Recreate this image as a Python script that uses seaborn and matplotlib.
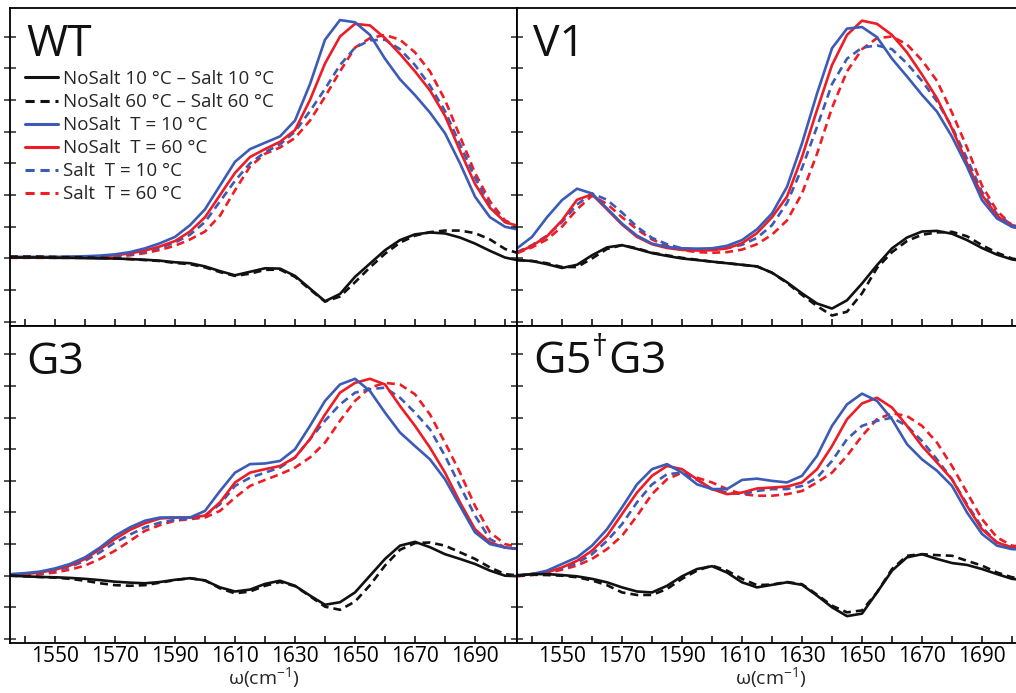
import matplotlib
matplotlib.use("Agg")
import matplotlib.pyplot as plt
import pandas as pd
import seaborn as sns
from matplotlib.lines import Line2D

# ---------------- data ----------------
omega = list(range(1535, 1706, 5))   # wavenumber, cm-1

# WT
wt_nosalt10 = [0.05,0.05,0.05,0.05,0.06,0.07,0.09,0.13,0.2,0.32,0.48,0.68,1.05,1.55,2.3,3.05,3.45,3.65,3.85,4.35,5.5,6.9,7.52,7.45,7.05,6.3,5.65,5.15,4.6,3.95,3.0,1.95,1.3,1.0,0.9]
wt_nosalt60 = [0.03,0.03,0.03,0.03,0.04,0.05,0.07,0.1,0.16,0.25,0.38,0.55,0.85,1.3,2.0,2.7,3.2,3.45,3.68,4.05,5.0,6.15,7.0,7.4,7.35,6.95,6.45,5.9,5.3,4.5,3.4,2.35,1.6,1.15,1.0]
wt_salt10 = [0.03,0.03,0.03,0.03,0.04,0.05,0.06,0.08,0.13,0.22,0.34,0.5,0.75,1.15,1.8,2.45,3.0,3.35,3.6,4.0,4.65,5.35,6.1,6.65,6.88,6.9,6.6,6.1,5.45,4.65,3.6,2.55,1.65,1.15,0.95]
wt_salt60 = [0.02,0.02,0.02,0.02,0.02,0.02,0.03,0.06,0.1,0.17,0.27,0.4,0.6,0.85,1.35,2.15,2.9,3.3,3.5,3.8,4.35,5.1,5.9,6.65,6.95,7.05,6.9,6.5,5.9,5.0,3.85,2.7,1.8,1.2,0.98]
wt_diff10 = [0.03,0.03,0.03,0.02,0.02,0.01,0.0,0.0,-0.02,-0.04,-0.07,-0.12,-0.15,-0.25,-0.4,-0.53,-0.42,-0.31,-0.32,-0.55,-0.95,-1.35,-1.12,-0.58,-0.16,0.26,0.58,0.76,0.82,0.79,0.66,0.47,0.24,0.03,-0.07]
wt_diff60 = [0.06,0.06,0.06,0.05,0.04,0.03,0.02,0.0,-0.02,-0.05,-0.08,-0.14,-0.18,-0.28,-0.43,-0.55,-0.48,-0.36,-0.35,-0.58,-0.98,-1.36,-1.2,-0.75,-0.28,0.15,0.5,0.72,0.83,0.88,0.88,0.8,0.6,0.3,0.15]

# V1
v1_nosalt10 = [0.32,0.68,1.3,1.84,2.2,2.05,1.58,1.1,0.72,0.47,0.36,0.32,0.31,0.32,0.4,0.58,0.92,1.42,2.26,3.63,5.2,6.63,7.25,7.3,6.98,6.3,5.74,5.16,4.63,3.84,2.9,1.84,1.26,1.0,0.9]
v1_nosalt60 = [0.17,0.4,0.7,1.2,1.85,2.02,1.55,1.07,0.68,0.45,0.33,0.27,0.25,0.26,0.32,0.48,0.8,1.3,1.95,3.2,4.68,6.1,7.05,7.5,7.4,7.05,6.5,5.8,5.05,4.1,3.0,2.0,1.35,1.0,0.9]
v1_salt10 = [0.2,0.42,0.72,1.15,1.7,2.05,1.85,1.45,1.0,0.65,0.45,0.32,0.28,0.28,0.33,0.43,0.65,1.05,1.75,2.85,4.15,5.5,6.3,6.65,6.72,6.6,6.15,5.6,4.95,4.15,3.15,2.1,1.4,1.05,0.95]
v1_salt60 = [0.17,0.35,0.6,1.0,1.55,1.98,1.72,1.3,0.92,0.6,0.4,0.27,0.2,0.18,0.2,0.28,0.45,0.75,1.2,2.05,3.3,4.75,5.9,6.6,6.95,7.0,6.75,6.25,5.6,4.6,3.5,2.3,1.5,1.05,0.9]
v1_diff10 = [-0.05,-0.08,-0.18,-0.3,-0.2,0.1,0.35,0.42,0.3,0.17,0.08,0.0,-0.05,-0.1,-0.15,-0.2,-0.25,-0.45,-0.75,-1.1,-1.42,-1.58,-1.32,-0.79,-0.21,0.32,0.66,0.85,0.87,0.78,0.58,0.33,0.12,-0.03,-0.1]
v1_diff60 = [-0.05,-0.08,-0.15,-0.27,-0.27,0.0,0.3,0.42,0.32,0.18,0.1,0.02,-0.04,-0.1,-0.15,-0.2,-0.25,-0.45,-0.77,-1.15,-1.5,-1.8,-1.68,-1.1,-0.3,0.2,0.55,0.75,0.82,0.84,0.7,0.42,0.18,0.0,-0.1]

# G3
g3_nosalt10 = [0.05,0.08,0.13,0.23,0.37,0.58,0.89,1.26,1.53,1.74,1.84,1.84,1.84,2.05,2.68,3.26,3.53,3.55,3.63,4.0,4.74,5.53,6.05,6.23,5.84,5.16,4.53,4.1,3.68,3.05,2.21,1.37,1.0,0.89,0.84]
g3_nosalt60 = [0.03,0.05,0.1,0.19,0.32,0.53,0.84,1.16,1.45,1.66,1.81,1.84,1.84,1.9,2.32,2.95,3.26,3.37,3.47,3.74,4.32,5.1,5.79,6.1,6.23,6.05,5.37,4.74,4.05,3.26,2.32,1.47,1.05,0.89,0.84]
g3_salt10 = [0.03,0.05,0.09,0.16,0.28,0.47,0.74,1.05,1.3,1.53,1.68,1.77,1.81,1.9,2.26,2.84,3.1,3.26,3.42,3.74,4.32,4.9,5.42,5.79,5.9,5.95,5.63,5.16,4.63,3.79,2.84,1.9,1.16,0.89,0.84]
g3_salt60 = [0.02,0.03,0.05,0.1,0.19,0.32,0.53,0.79,1.1,1.42,1.6,1.74,1.79,1.84,2.05,2.47,2.84,3.03,3.21,3.42,3.74,4.21,4.9,5.53,5.95,6.1,6.05,5.74,5.1,4.21,3.26,2.21,1.37,1.0,0.89]
g3_diff10 = [0.0,-0.02,-0.04,-0.05,-0.07,-0.1,-0.14,-0.19,-0.22,-0.24,-0.2,-0.13,-0.08,-0.15,-0.37,-0.5,-0.44,-0.26,-0.16,-0.32,-0.63,-0.92,-0.84,-0.53,0.0,0.53,0.95,1.07,0.9,0.68,0.53,0.37,0.16,0.0,-0.02]
g3_diff60 = [0.0,-0.02,-0.04,-0.06,-0.1,-0.16,-0.24,-0.3,-0.32,-0.3,-0.22,-0.14,-0.08,-0.15,-0.4,-0.56,-0.5,-0.32,-0.2,-0.33,-0.65,-0.98,-1.08,-0.82,-0.3,0.32,0.82,1.03,1.05,0.95,0.74,0.53,0.26,0.05,0.0]

# G5+G3
g5_nosalt10 = [0.02,0.05,0.16,0.37,0.58,0.95,1.47,2.16,2.89,3.37,3.53,3.26,2.89,2.74,2.74,3.03,3.07,3.0,2.95,3.16,3.79,4.74,5.42,5.76,5.53,4.95,4.16,3.68,3.32,2.84,2.0,1.32,0.95,0.84,0.82]
g5_nosalt60 = [0.0,0.05,0.1,0.26,0.47,0.79,1.26,1.95,2.63,3.16,3.47,3.37,3.05,2.74,2.58,2.63,2.76,2.79,2.82,2.95,3.37,4.1,4.95,5.45,5.63,5.32,4.74,4.1,3.58,3.05,2.21,1.47,1.05,0.89,0.86]
g5_salt10 = [0.0,0.05,0.12,0.23,0.4,0.68,1.1,1.63,2.32,2.89,3.21,3.26,3.03,2.74,2.63,2.58,2.68,2.74,2.74,2.84,3.1,3.63,4.32,4.74,4.9,5.0,4.74,4.26,3.68,3.05,2.26,1.53,1.05,0.89,0.86]
g5_salt60 = [-0.02,0.02,0.08,0.19,0.32,0.53,0.84,1.26,1.89,2.58,3.05,3.26,3.1,2.95,2.74,2.58,2.53,2.53,2.58,2.68,2.95,3.26,3.79,4.42,4.95,5.14,5.05,4.74,4.21,3.47,2.63,1.79,1.21,0.95,0.89]
g5_diff10 = [0.0,0.05,0.05,0.02,-0.02,-0.1,-0.21,-0.37,-0.5,-0.53,-0.32,-0.02,0.21,0.3,0.1,-0.21,-0.37,-0.29,-0.21,-0.29,-0.63,-1.0,-1.28,-1.2,-0.53,0.16,0.58,0.68,0.53,0.4,0.34,0.21,0.05,-0.1,-0.15]
g5_diff60 = [0.0,0.03,0.02,0.0,-0.05,-0.15,-0.3,-0.53,-0.61,-0.61,-0.42,-0.1,0.16,0.32,0.16,-0.1,-0.3,-0.28,-0.2,-0.27,-0.6,-0.95,-1.16,-1.1,-0.53,0.21,0.63,0.68,0.65,0.63,0.47,0.32,0.1,-0.05,-0.12]

series_labels = ["NoSalt 10 \u00b0C \u2013 Salt 10 \u00b0C",
                 "NoSalt 60 \u00b0C \u2013 Salt 60 \u00b0C",
                 "NoSalt  T = 10 \u00b0C",
                 "NoSalt  T = 60 \u00b0C",
                 "Salt  T = 10 \u00b0C",
                 "Salt  T = 60 \u00b0C"]
panel_names = ["WT", "V1", "G3", "G5$^{\u2020}$G3"]
xtick_values = list(range(1540, 1701, 10))

# ---------------- style ----------------
BLUE = "#3b5bb7"
RED = "#ee1c25"
BLACK = "#111111"
sns.set_style("ticks")
plt.rcParams["font.family"] = ["Open Sans", "DejaVu Sans"]
plt.rcParams["mathtext.default"] = "regular"

palette = {series_labels[0]: BLACK, series_labels[1]: BLACK,
           series_labels[2]: BLUE, series_labels[3]: RED,
           series_labels[4]: BLUE, series_labels[5]: RED}
DASH = (3.0, 1.9)
dashes = {series_labels[0]: "", series_labels[1]: DASH,
          series_labels[2]: "", series_labels[3]: "",
          series_labels[4]: DASH, series_labels[5]: DASH}
draw_order = [series_labels[5], series_labels[4], series_labels[3],
              series_labels[2], series_labels[1], series_labels[0]]

panels = [
    (panel_names[0], [wt_diff10, wt_diff60, wt_nosalt10, wt_nosalt60, wt_salt10, wt_salt60], (10, 8, 517, 326), False),
    (panel_names[1], [v1_diff10, v1_diff60, v1_nosalt10, v1_nosalt60, v1_salt10, v1_salt60], (517, 8, 1024, 326), False),
    (panel_names[2], [g3_diff10, g3_diff60, g3_nosalt10, g3_nosalt60, g3_salt10, g3_salt60], (10, 326, 517, 643), True),
    (panel_names[3], [g5_diff10, g5_diff60, g5_nosalt10, g5_nosalt60, g5_salt10, g5_salt60], (517, 326, 1024, 643), True),
]

W, H = 1016, 693
fig = plt.figure(figsize=(W / 100, H / 100), dpi=100)

for idx, (name, arrays, (x0, y0, x1, y1), bottom) in enumerate(panels):
    ax = fig.add_axes([x0 / W, 1 - y1 / H, (x1 - x0) / W, (y1 - y0) / H])
    rows = []
    for lab, arr in zip(series_labels, arrays):
        for w, v in zip(omega, arr):
            rows.append({"omega": w, "signal": v, "series": lab})
    df = pd.DataFrame(rows)
    sns.lineplot(data=df, x="omega", y="signal", hue="series", style="series",
                 hue_order=draw_order, style_order=draw_order,
                 palette=palette, dashes=dashes, linewidth=1.9,
                 legend=False, ax=ax)
    ax.set_xlim(1535, 1704)
    ax.set_ylim(-2.13, 7.9)
    ax.set_xticks(xtick_values)
    if bottom:
        ax.set_xticklabels([str(t) if (t - 1550) % 20 == 0 else "" for t in xtick_values])
        ax.set_xlabel("\u03c9(cm$^{-1}$)", fontsize=14, labelpad=-1)
    else:
        ax.set_xticklabels([])
        ax.set_xlabel("")
    ax.set_ylabel("")
    ax.set_yticks(range(-2, 8))
    ax.set_yticklabels([])
    ax.tick_params(axis="x", direction="in", length=5, width=1.1, labelsize=15, pad=2, colors="black")
    ax.tick_params(axis="y", direction="inout", length=9, width=1.1)
    for sp in ax.spines.values():
        sp.set_linewidth(1.3)
        sp.set_color("black")
    ax.text(0.032, 0.85, name, transform=ax.transAxes, fontsize=32,
            ha="left", va="baseline", color="#111111")
    if idx == 0:
        handles = [Line2D([], [], color=palette[l], linewidth=2.2,
                          linestyle=(0, DASH) if dashes[l] else "-") for l in series_labels]
        ax.legend(handles, series_labels, loc="upper left", bbox_to_anchor=(0.03, 0.805),
                  frameon=False, fontsize=13.5, handlelength=1.75, handletextpad=0.25,
                  labelspacing=0.27, borderaxespad=0, borderpad=0)

fig.savefig("out.png", dpi=100)
